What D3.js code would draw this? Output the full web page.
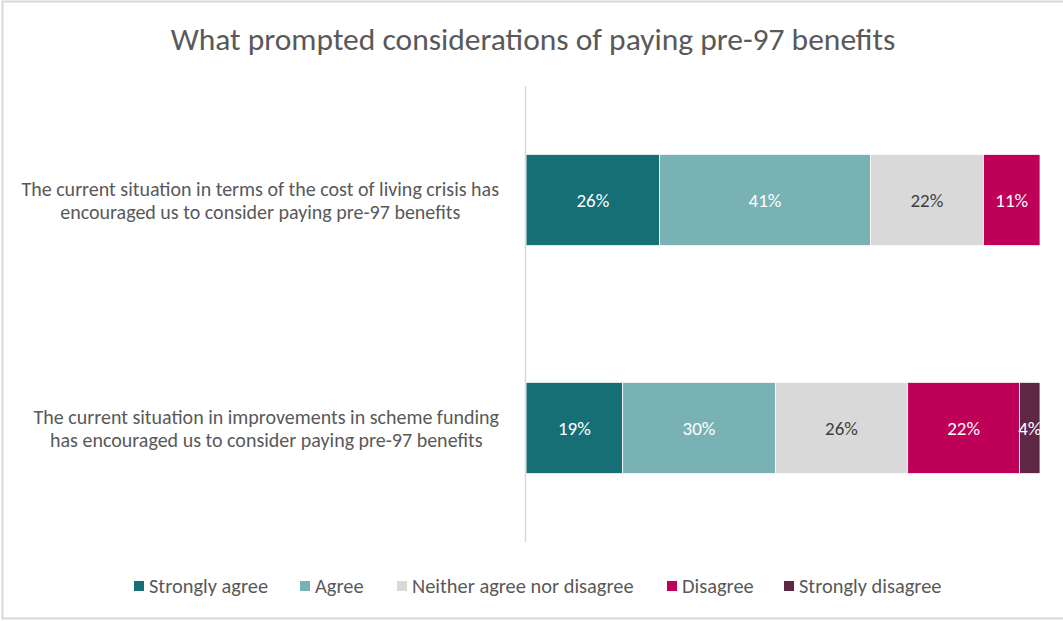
<!DOCTYPE html>
<html>
<head>
<meta charset="utf-8">
<script src="https://cdn.jsdelivr.net/npm/d3@7"></script>
<style>
  html, body { margin: 0; padding: 0; background: #fff; }
  svg { display: block; }
  text { font-family: Carlito, Lato, "Liberation Sans", sans-serif; }
</style>
</head>
<body>
<svg id="chart" width="1063" height="621"></svg>
<script>
// Survey responses, percent of respondents per statement
const categories = [
  "The current situation in terms of the cost of living crisis has|encouraged us to consider paying pre-97 benefits",
  "The current situation in improvements in scheme funding|has encouraged us to consider paying pre-97 benefits"
];
const seriesNames = ["Strongly agree", "Agree", "Neither agree nor disagree", "Disagree", "Strongly disagree"];
const stronglyAgree = [26, 19];
const agree = [41, 30];
const neither = [22, 26];
const disagree = [11, 22];
const stronglyDisagree = [0, 4];
const colors = ["#156F75", "#79B2B4", "#D9D9D9", "#BE0059", "#5E2745"];
const labelColors = ["#ffffff", "#ffffff", "#404040", "#ffffff", "#ffffff"];

const seriesValues = [stronglyAgree, agree, neither, disagree, stronglyDisagree];
const rows = categories.map((c, i) => {
  const r = { category: c };
  seriesNames.forEach((s, k) => { r[s] = seriesValues[k][i]; });
  return r;
});

const svg = d3.select("#chart");
const W = 1063, H = 621;

// Outer frame
svg.append("rect")
  .attr("x", 2.5).attr("y", 1.5).attr("width", W + 5).attr("height", 617)
  .attr("fill", "#fff").attr("stroke", "#D9D9D9").attr("stroke-width", 2);

// Title
svg.append("text")
  .attr("x", 533).attr("y", 50)
  .attr("text-anchor", "middle")
  .attr("font-size", 31.5)
  .attr("fill", "#595959")
  .text("What prompted considerations of paying pre-97 benefits");

const x = d3.scaleLinear().domain([0, 1]).range([526, 1040]);
const y = d3.scaleBand().domain(categories).range([86, 542]).paddingInner(0.6).paddingOuter(0.3);

const stack = d3.stack().keys(seriesNames).offset(d3.stackOffsetExpand);
const stacked = stack(rows);

svg.append("clipPath").attr("id", "plotClip")
  .append("rect").attr("x", 526).attr("y", 86).attr("width", 514).attr("height", 456);

const plot = svg.append("g").attr("clip-path", "url(#plotClip)");

const layers = plot.selectAll("g.layer")
  .data(stacked)
  .join("g")
  .attr("class", "layer")
  .attr("fill", (d, i) => colors[i]);

layers.selectAll("rect")
  .data(d => d.filter(s => s.data[d.key] > 0))
  .join("rect")
  .attr("x", d => x(d[0]))
  .attr("y", d => y(d.data.category))
  .attr("width", d => x(d[1]) - x(d[0]))
  .attr("height", y.bandwidth())
  .attr("stroke", "#ffffff")
  .attr("stroke-width", 0.75);

layers.each(function(layer, i) {
  d3.select(this).selectAll("text")
    .data(layer.filter(s => s.data[layer.key] > 0))
    .join("text")
    .attr("x", d => (x(d[0]) + x(d[1])) / 2)
    .attr("y", d => y(d.data.category) + y.bandwidth() / 2)
    .attr("dy", "0.35em")
    .attr("text-anchor", "middle")
    .attr("font-size", 19)
    .attr("fill", labelColors[i])
    .text(d => d.data[layer.key] + "%");
});

// Category axis line
svg.append("line")
  .attr("x1", 525.5).attr("x2", 525.5)
  .attr("y1", 86).attr("y2", 542)
  .attr("stroke", "#D9D9D9").attr("stroke-width", 1.5);

// Category labels: each wrapped block sits against the axis, its lines centred within it
const labelRight = 499;
const catG = svg.append("g");
categories.forEach(c => {
  const lines = c.split("|");
  const cy = y(c) + y.bandwidth() / 2;
  const t = catG.append("text")
    .attr("text-anchor", "middle")
    .attr("font-size", 20)
    .attr("fill", "#595959");
  const spans = lines.map((ln, j) => t.append("tspan")
    .attr("y", cy + (j - (lines.length - 1) / 2) * 23)
    .attr("dy", "0.35em")
    .text(ln));
  const blockW = d3.max(spans, s => s.node().getComputedTextLength());
  spans.forEach(s => s.attr("x", labelRight - blockW / 2));
});

// Legend
const legendX = [134, 300, 397, 667, 784];
const legend = svg.append("g");
seriesNames.forEach((s, i) => {
  const g = legend.append("g").attr("transform", `translate(${legendX[i]},586)`);
  g.append("rect").attr("x", 0).attr("y", -5).attr("width", 10).attr("height", 10).attr("fill", colors[i]);
  g.append("text").attr("x", 15).attr("y", 0).attr("dy", "0.35em")
    .attr("font-size", 20.4).attr("fill", "#595959").text(s);
});
</script>
</body>
</html>
